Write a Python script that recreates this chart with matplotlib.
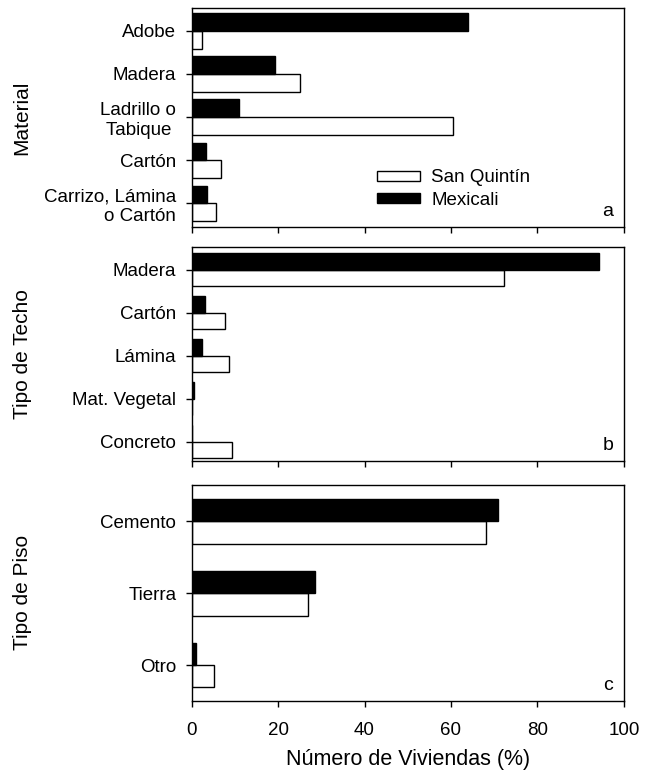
import numpy as np
import matplotlib.pyplot as plt

plt.rcParams['font.family'] = ['Liberation Sans', 'DejaVu Sans']

# panel a: material de paredes
material_cats = ["Adobe", "Madera", "Ladrillo o\nTabique ", "Cartón", "Carrizo, Lámina\no Cartón"]
material_mexicali = [64.0, 19.2, 11.0, 3.3, 3.5]
material_sanquintin = [2.3, 25.0, 60.5, 6.7, 5.6]

# panel b: tipo de techo
techo_cats = ["Madera", "Cartón", "Lámina", "Mat. Vegetal", "Concreto"]
techo_mexicali = [94.2, 3.2, 2.4, 0.5, 0.0]
techo_sanquintin = [72.3, 7.7, 8.6, 0.0, 9.4]

# panel c: tipo de piso
piso_cats = ["Cemento", "Tierra", "Otro"]
piso_mexicali = [70.9, 28.6, 1.0]
piso_sanquintin = [68.0, 27.0, 5.1]

xticks = [0, 20, 40, 60, 80, 100]

fig = plt.figure(figsize=(6.54, 7.72), dpi=100)

panels = [
    # (cats, mex, sq, ylabel, letter, rect, ylim, bar height)
    (material_cats, material_mexicali, material_sanquintin, "Material", "a",
     [0.293, 0.706, 0.661, 0.283], (4.55, -0.52), 0.41),
    (techo_cats, techo_mexicali, techo_sanquintin, "Tipo de Techo", "b",
     [0.293, 0.403, 0.661, 0.277], (4.45, -0.53), 0.38),
    (piso_cats, piso_mexicali, piso_sanquintin, "Tipo de Piso", "c",
     [0.293, 0.092, 0.661, 0.280], (2.5, -0.51), 0.31),
]

for i, (cats, mex, sq, ylab, letter, rect, ylim, h) in enumerate(panels):
    ax = fig.add_axes(rect)
    y = np.arange(len(cats))
    # Mexicali above the tick, San Quintin below it (y axis inverted)
    ax.barh(y + h / 2, sq, height=h, color='white', edgecolor='black',
            linewidth=1.0, label='San Quintín')
    ax.barh(y - h / 2, mex, height=h, color='black', edgecolor='black',
            linewidth=1.0, label='Mexicali')
    ax.set_ylim(*ylim)
    ax.set_yticks(y)
    ax.set_yticklabels(cats, fontsize=13.5, ha='right', multialignment='right')
    ax.set_xlim(0, 100)
    ax.set_xticks(xticks)
    ax.tick_params(direction='out', length=4, width=1, labelsize=13.5)
    ax.tick_params(axis='y', pad=7)
    ax.tick_params(axis='x', pad=11)
    for s in ax.spines.values():
        s.set_linewidth(1.0)
    ax.set_ylabel(ylab, fontsize=15)
    ax.yaxis.set_label_coords(-0.37, 0.5)
    ax.text(0.975, 0.03, letter, transform=ax.transAxes, ha='right',
            va='bottom', fontsize=14)
    if i < 2:
        ax.set_xticklabels([])
    else:
        ax.set_xlabel("Número de Viviendas (%)", fontsize=15.5, labelpad=7)
    if i == 0:
        ax.legend(loc='lower left', bbox_to_anchor=(0.39, 0.005), frameon=False,
                  fontsize=13.5, handlelength=2.3, handleheight=0.45,
                  handletextpad=0.6, labelspacing=0.3)

fig.savefig("out.png", dpi=100)
